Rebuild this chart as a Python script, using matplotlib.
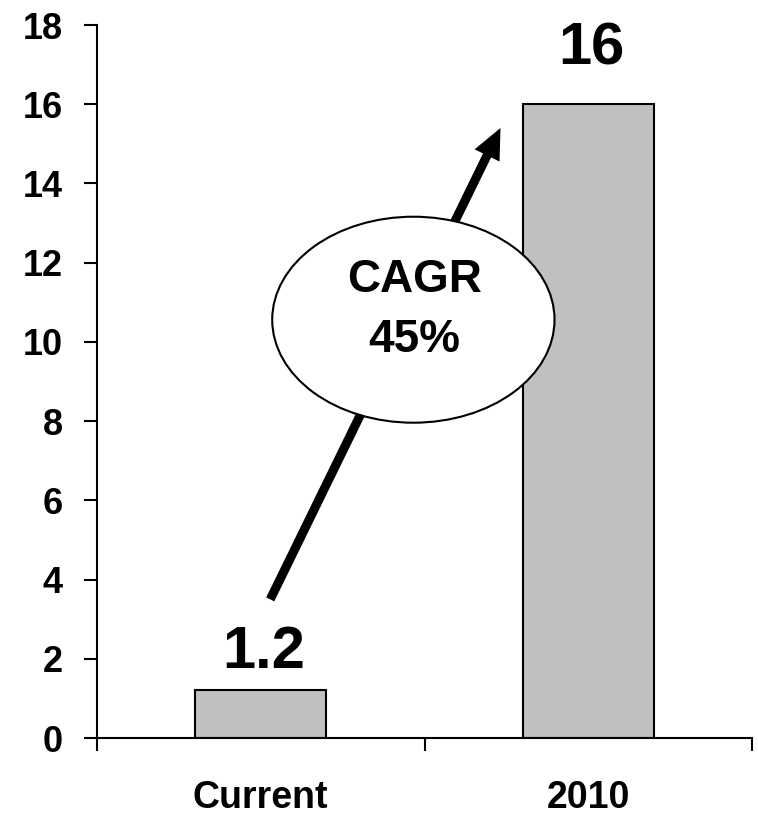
import matplotlib.pyplot as plt
from matplotlib.patches import Ellipse

# chart data
categories = ['Current', '2010']
values = [1.2, 16]
value_labels = ['1.2', '16']
yticks = list(range(0, 19, 2))
cagr_text = 'CAGR\n45%'

plt.rcParams['font.family'] = ['Liberation Sans', 'DejaVu Sans']
plt.rcParams['font.weight'] = 'bold'

fig = plt.figure(figsize=(7.58, 8.15), dpi=100)
ax = fig.add_axes([97 / 758, 77 / 815, 655 / 758, 713 / 815])

x = list(range(len(categories)))
ax.bar(x, values, width=0.40, color='#c0c0c0', edgecolor='black', linewidth=1.5, zorder=2)

# value labels above the bars (offsets in data units)
label_offsets = [0.57, 1.0]
for xi, v, lab, off in zip(x, values, value_labels, label_offsets):
    ax.text(xi + 0.01, v + off, lab, ha='center', va='baseline', fontsize=43, fontweight='bold', zorder=5)

# growth arrow, passing under the CAGR bubble
ax.annotate('', xy=(0.732, 15.4), xytext=(0.029, 3.5),
            arrowprops=dict(arrowstyle='simple,head_length=2.2,head_width=2.0,tail_width=0.65',
                            mutation_scale=10, fc='black', ec='black', lw=0,
                            shrinkA=0, shrinkB=0), zorder=3)

bubble = Ellipse((0.466, 10.56), 0.862, 5.2, facecolor='white', edgecolor='black', linewidth=1.5, zorder=4)
ax.add_patch(bubble)
ax.text(0.47, 10.8, cagr_text, ha='center', va='center', fontsize=33, fontweight='bold',
        linespacing=1.47, zorder=5)

ax.set_xlim(-0.5, len(categories) - 0.5)
ax.set_ylim(0, 18)

# y axis
ax.set_yticks(yticks)
ax.set_yticklabels([str(t) for t in yticks], fontsize=26, fontweight='bold')
ax.tick_params(axis='y', direction='out', length=9.5, width=1.5, pad=15)

# x axis: boundary ticks as major, labels on minor
ax.set_xticks([i - 0.5 for i in range(len(categories) + 1)])
ax.set_xticklabels([])
ax.set_xticks(x, minor=True)
ax.set_xticklabels(categories, minor=True, fontsize=27, fontweight='bold')
ax.tick_params(axis='x', which='major', direction='out', length=9, width=1.5)
ax.tick_params(axis='x', which='minor', length=0, pad=30)

for side in ['top', 'right']:
    ax.spines[side].set_visible(False)
for side in ['left', 'bottom']:
    ax.spines[side].set_linewidth(1.5)

fig.savefig('out.png', dpi=100)
